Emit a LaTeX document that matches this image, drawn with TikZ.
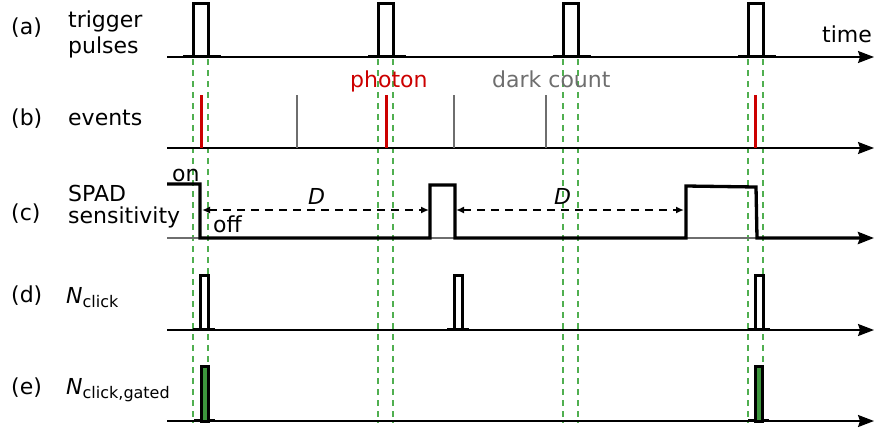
\documentclass[tikz,border=0pt]{standalone}
\usepackage{fontspec}
\setmainfont{DejaVu Sans}
\usetikzlibrary{arrows.meta}
\definecolor{gdash}{RGB}{80,175,80}
\definecolor{gfill}{RGB}{60,150,60}
\definecolor{pred}{RGB}{204,0,0}
\definecolor{dgrey}{RGB}{110,110,110}
\begin{document}
\begin{tikzpicture}[x=1pt,y=-1pt,font=\fontsize{22}{26}\selectfont,
  axis/.style={line width=1.7pt,-{Stealth[length=16pt,width=12pt,inset=2pt]}},
  pulse/.style={line width=3pt,line join=miter},
  stub/.style={line width=3.2pt},
  gate/.style={gdash,dash pattern=on 6pt off 5pt,line width=1.4pt},
  evred/.style={pred,line width=3pt},
  evgrey/.style={dgrey,line width=2.6pt},
  dimarrow/.style={line width=1.6pt,dash pattern=on 8pt off 6pt,{Latex[length=8pt,width=7pt]}-{Latex[length=8pt,width=7pt]}},
  lbl/.style={anchor=base west,inner sep=0pt}]
\useasboundingbox (0,0) rectangle (877,434);
% gate lines
\foreach \gx in {193,208,378,393,563,578,748,763}
  \draw[gate] (\gx,59) -- (\gx,423);
% axes
\coordinate (a0) at (167,57);  \coordinate (a1) at (874,57);
\coordinate (b0) at (167,148); \coordinate (b1) at (874,148);
\coordinate (d0) at (167,330); \coordinate (d1) at (874,330);
\coordinate (e0) at (167,421); \coordinate (e1) at (874,421);
\draw[axis] (a0) -- (a1);
\draw[axis] (b0) -- (b1);
\draw[axis] (d0) -- (d1);
\draw[axis] (e0) -- (e1);
% (a) trigger pulses
\foreach \px in {193,378,563,748}{
  \draw[stub] (\px-10,56.5) -- (\px+28,56.5);
  \draw[pulse] (\px,57) -- (\px,3) -- (\px+15,3) -- (\px+15,57);
}
% (b) events
\foreach \ex in {201,386,755} \draw[evred] (\ex,95) -- (\ex,148);
\foreach \ex in {297,454,546} \draw[evgrey] (\ex,95) -- (\ex,148);
% (c) SPAD sensitivity
\draw[dgrey,line width=1.6pt] (167,238) -- (200,238) (430,238) -- (455,238) (686,238) -- (756,238);
\draw[line width=3.3pt,line join=miter,-{Stealth[length=16pt,width=12pt,inset=2pt]}]
  (167,184) -- (200,184) -- (200,238) -- (430,238) -- (430,185) -- (455,185) -- (455,238)
  -- (686,238) -- (686,186) -- (756,187) -- (757,238) -- (874,238);
\coordinate (c1l) at (202,210); \coordinate (c1r) at (429,210);
\coordinate (c2l) at (456,210); \coordinate (c2r) at (684,210);
\draw[dimarrow] (c1l) -- (c1r);
\draw[dimarrow] (c2l) -- (c2r);
% (d) N_click
\foreach \px in {200,454,755}{
  \draw[stub] (\px-7,329.5) -- (\px+15,329.5);
  \draw[pulse] (\px,330) -- (\px,275) -- (\px+8,275) -- (\px+8,330);
}
% (e) gated
\foreach \px in {201,755}{
  \draw[stub] (\px-7,420.5) -- (\px+14,420.5);
  \draw[pulse,fill=gfill] (\px,421) -- (\px,366) -- (\px+7,366) -- (\px+7,421) -- cycle;
}
% labels
\node[lbl] (la) at (11,34) {(a)};
\node[lbl] (ta1) at (68,27) {trigger};
\node[lbl] (ta2) at (68,53) {pulses};
\node[lbl] (time) at (822,42) {time};
\node[lbl] (lb) at (11,125) {(b)};
\node[lbl] (tb) at (68,125) {events};
\node[lbl,text=pred] (photon) at (350,87) {photon};
\node[lbl,text=dgrey] (dark) at (492,87) {dark count};
\node[lbl] (lc) at (11,220) {(c)};
\node[lbl] (tc1) at (68,201) {SPAD};
\node[lbl] (tc2) at (68,223) {sensitivity};
\node[lbl] (on) at (172,181) {on};
\node[lbl] (off) at (213,232) {off};
\node[lbl] (D1) at (308,204) {\itshape D};
\node[lbl] (D2) at (554,204) {\itshape D};
\node[lbl] (ld) at (11,302) {(d)};
\node[lbl] (td) at (66,303) {{\itshape N}\raisebox{-4pt}{\fontsize{16}{16}\selectfont click}};
\node[lbl] (le) at (11,394) {(e)};
\node[lbl] (te) at (66,394) {{\itshape N}\raisebox{-4pt}{\fontsize{16}{16}\selectfont click,gated}};
\end{tikzpicture}
\end{document}
